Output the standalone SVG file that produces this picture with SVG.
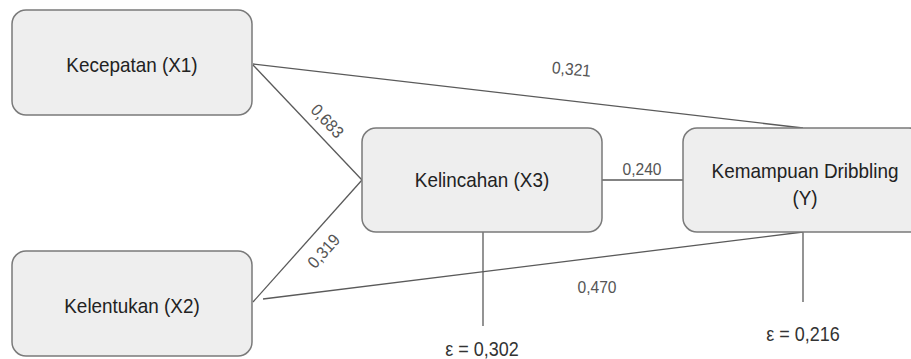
<svg xmlns="http://www.w3.org/2000/svg" width="911" height="359" viewBox="0 0 911 359">
<style>
.box{fill:#eeeeee;stroke:#7a7a7a;stroke-width:1.5}
.bt{font-family:"Liberation Sans",Arial,sans-serif;font-size:21px;fill:#222;text-anchor:middle}
.lbl{font-family:"Liberation Sans",Arial,sans-serif;font-size:17px;fill:#555;text-anchor:middle}
.eps{font-family:"Liberation Sans",Arial,sans-serif;font-size:20px;fill:#333;text-anchor:middle}
.ln{stroke:#5a5a5a;stroke-width:1.3;fill:none}
</style>
<rect width="911" height="359" fill="#ffffff"/>
<g id="connectors">
<line class="ln" x1="253" y1="64" x2="803" y2="128"/>
<line class="ln" x1="253" y1="65" x2="362" y2="180"/>
<line class="ln" x1="253" y1="302" x2="362" y2="180"/>
<line class="ln" x1="263" y1="299" x2="803" y2="232"/>
<line class="ln" x1="602" y1="180" x2="683" y2="180"/>
<line class="ln" x1="483" y1="232" x2="483" y2="326"/>
<line class="ln" x1="803" y1="232" x2="803" y2="302"/>
<text class="lbl" transform="translate(571,75) rotate(5) scale(0.92,1)">0,321</text>
<text class="lbl" transform="translate(323,125) rotate(47) scale(0.92,1)">0,683</text>
<text class="lbl" transform="translate(328,255) rotate(-48) scale(0.92,1)">0,319</text>
<text class="lbl" transform="translate(642,175) scale(0.92,1)">0,240</text>
<text class="lbl" transform="translate(597,293) scale(0.92,1)">0,470</text>
<text class="eps" transform="translate(482,356) scale(0.9,1)">ε = 0,302</text>
<text class="eps" transform="translate(803,341) scale(0.9,1)">ε = 0,216</text>
</g>
<g id="kecepatan">
<rect class="box" x="12" y="10" width="240" height="105" rx="14"/>
<text class="bt" transform="translate(132,72) scale(0.9,1)">Kecepatan (X1)</text>
</g>
<g id="kelentukan">
<rect class="box" x="12" y="251" width="240" height="105" rx="14"/>
<text class="bt" transform="translate(132,313) scale(0.9,1)">Kelentukan (X2)</text>
</g>
<g id="kelincahan">
<rect class="box" x="362" y="128" width="240" height="104" rx="14"/>
<text class="bt" transform="translate(482,187) scale(0.9,1)">Kelincahan (X3)</text>
</g>
<g id="kemampuan">
<rect class="box" x="683" y="128" width="240" height="104" rx="14"/>
<text class="bt" transform="translate(805,178) scale(0.9,1)">Kemampuan Dribbling</text>
<text class="bt" transform="translate(805,205) scale(0.9,1)">(Y)</text>
</g>
</svg>
